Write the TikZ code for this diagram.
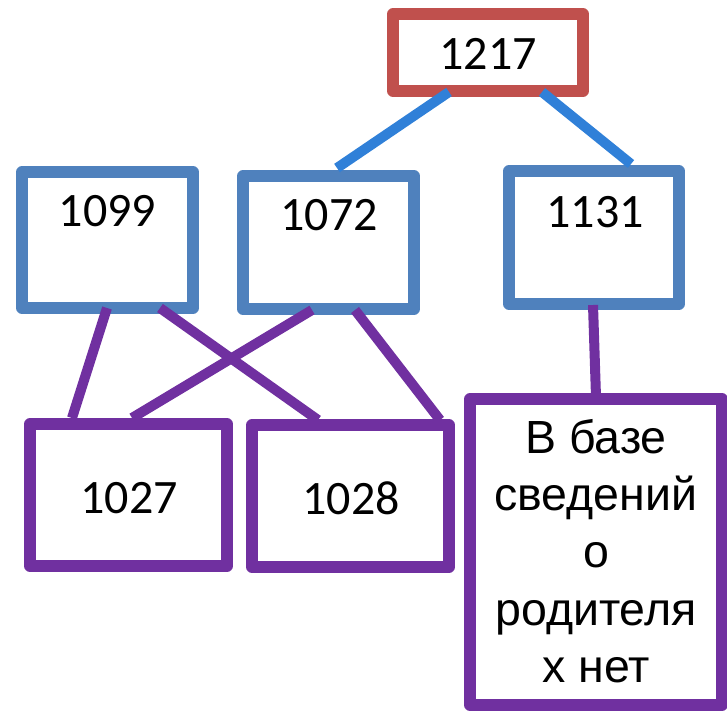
\documentclass[tikz,border=0pt]{standalone}
\usepackage{fontspec}
\setmainfont{Carlito}
\newfontfamily\arialf{Liberation Sans}
\usetikzlibrary{calc}
\definecolor{boxred}{HTML}{C0504D}
\definecolor{boxblue}{HTML}{4F81BD}
\definecolor{lineblue}{HTML}{3080D8}
\definecolor{boxpurple}{HTML}{7030A0}
\tikzset{
  box/.style={draw, rectangle, line width=11.5pt, line join=round, fill=white, inner sep=0pt, outer sep=0pt},
  redbox/.style={box, draw=boxred},
  bluebox/.style={box, draw=boxblue},
  purplebox/.style={box, draw=boxpurple},
  num/.style={font=\fontsize{48}{56}\selectfont, inner sep=0pt},
  bluelink/.style={draw=lineblue, line width=10pt},
  purplelink/.style={draw=boxpurple, line width=10pt}
}
\begin{document}
\begin{tikzpicture}[x=1pt,y=-1pt]
\useasboundingbox (0,0) rectangle (727,711);
% boxes
\node[redbox, minimum width=190pt, minimum height=77pt] (r1217) at (488,52.5) {};
\node[bluebox, minimum width=171pt, minimum height=136pt] (b1099) at (107.5,240) {};
\node[bluebox, minimum width=171pt, minimum height=133pt] (b1072) at (328.5,242.5) {};
\node[bluebox, minimum width=170pt, minimum height=133pt] (b1131) at (594,237.5) {};
\node[purplebox, minimum width=197pt, minimum height=142pt] (p1027) at (128.5,495) {};
\node[purplebox, minimum width=197pt, minimum height=142pt] (p1028) at (350.5,496) {};
\node[purplebox, minimum width=252pt, minimum height=306pt] (ptext) at (596,552) {};
% connectors
\draw[bluelink] ($(r1217.south)+(-39,1)$) -- ($(b1072.north)+(8.5,-8)$);
\draw[bluelink] ($(r1217.south)+(54,1)$) -- ($(b1131.north)+(37,-7)$);
\draw[purplelink] ($(b1099.south)+(-0.5,0)$) -- ($(p1027.north)+(-56.5,-6)$);
\draw[purplelink] ($(b1099.south)+(52.5,0)$) -- ($(p1028.north)+(-32.5,-5)$);
\draw[purplelink] ($(b1072.south)+(-16.5,1)$) -- ($(p1027.north)+(3.5,-6)$);
\draw[purplelink] ($(b1072.south)+(26.5,1)$) -- ($(p1028.north)+(89.5,-5)$);
\draw[purplelink] ($(b1131.south)+(-1,1)$) -- ($(ptext.north)+(0,-2)$);
% texts
\node[num] (t1217) at (488,54) {1217};
\node[num] (t1099) at (107.5,211) {1099};
\node[num] (t1072) at (329,215.5) {1072};
\node[num] (t1131) at (595,212) {1131};
\node[num] (t1027) at (129,498) {1027};
\node[num] (t1028) at (351,498) {1028};
\node[font=\arialf\fontsize{46.5}{57.25}\selectfont, align=center, inner sep=0pt] (ttext) at (596,551)
  {В базе\\сведений\\о\\родителя\\х нет};
\end{tikzpicture}
\end{document}
